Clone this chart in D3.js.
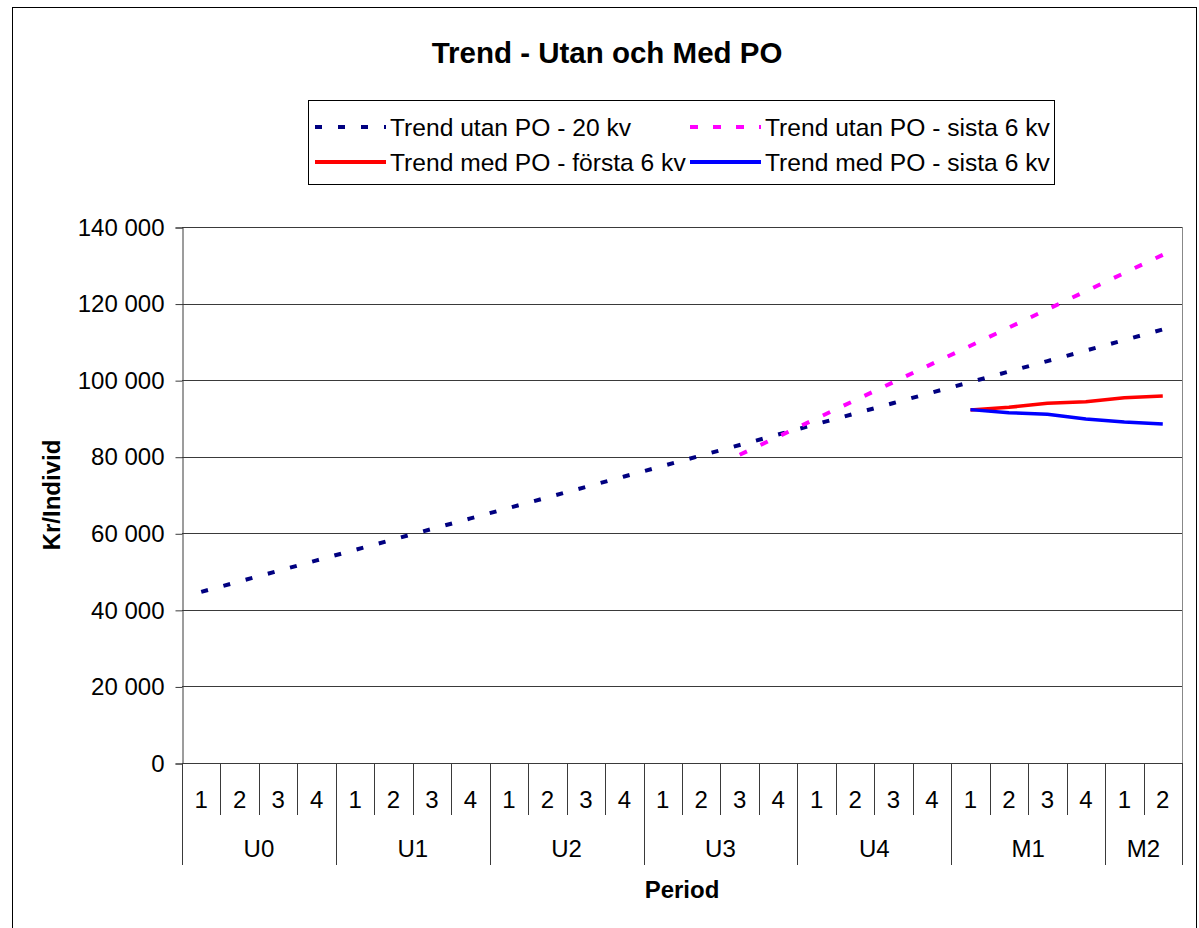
<!DOCTYPE html>
<html>
<head>
<meta charset="utf-8">
<script src="https://cdn.jsdelivr.net/npm/d3@7"></script>
<style>
  body { margin: 0; background: #fff; }
  text { font-family: "Liberation Sans", Arial, sans-serif; fill: #000; }
</style>
</head>
<body>
<svg id="chart" width="1199" height="928"></svg>
<script>
// kvartal inom varje period
let groups = ["U0", "U1", "U2", "U3", "U4", "M1", "M2"];
let groupSizes = [4, 4, 4, 4, 4, 4, 2];
let quarterLabels = ["1","2","3","4","1","2","3","4","1","2","3","4","1","2","3","4","1","2","3","4","1","2","3","4","1","2"];

// serier (null = inget värde)
let trendUtan20 = [44700, 47440, 50180, 52920, 55660, 58400, 61140, 63880, 66620, 69360, 72100, 74840, 77580,
    80320, 83060, 85800, 88540, 91280, 94020, 96760, 99500, 102240, 104980, 107720, 110460, 113250];
let trendUtanSista6 = [null, null, null, null, null, null, null, null, null, null, null, null, null, null,
    80500, 85250, 90000, 94740, 99490, 104240, 108990, 113740, 118480, 123230, 127980, 132730];
let trendMedForsta6 = [null, null, null, null, null, null, null, null, null, null, null, null, null, null,
    null, null, null, null, null, null, 92200, 92900, 93950, 94370, 95400, 95850];
let trendMedSista6 = [null, null, null, null, null, null, null, null, null, null, null, null, null, null,
    null, null, null, null, null, null, 92300, 91500, 91080, 89850, 89070, 88550];

let yTicks = [0, 20000, 40000, 60000, 80000, 100000, 120000, 140000];

let series = [
    {name: "Trend utan PO - 20 kv", values: trendUtan20, color: "#000080", dash: "7,16"},
    {name: "Trend utan PO - sista 6 kv", values: trendUtanSista6, color: "#FF00FF", dash: "8,15"},
    {name: "Trend med PO - första 6 kv", values: trendMedForsta6, color: "#FF0000", dash: null},
    {name: "Trend med PO - sista 6 kv", values: trendMedSista6, color: "#0000FF", dash: null}
];

let plotLeft = 182, plotRight = 1182, plotTop = 227, plotBottom = 763;
let svg = d3.select("#chart");

// ram runt diagrammet
svg.append("rect")
    .attr("x", 12.5).attr("y", 7.5)
    .attr("width", 1184).attr("height", 940)
    .attr("fill", "none").attr("stroke", "#000").attr("stroke-width", 1);

let x = d3.scaleBand().domain(d3.range(quarterLabels.length)).range([plotLeft, plotRight]).padding(0);
let y = d3.scaleLinear().domain([0, 140000]).range([plotBottom, plotTop]);
let bw = x.bandwidth();

let fmt = d3.formatLocale({decimal: ",", thousands: " ", grouping: [3], currency: ["", ""]}).format(",");

// rutnät
svg.append("g")
    .selectAll("line")
    .data(yTicks.filter(d => d > 0)).enter().append("line")
    .attr("x1", plotLeft).attr("x2", plotRight)
    .attr("y1", d => Math.round(y(d)) + 0.5).attr("y2", d => Math.round(y(d)) + 0.5)
    .attr("stroke", "#3a3a3a");

// höger kant på ritytan
svg.append("line")
    .attr("x1", plotRight + 0.5).attr("x2", plotRight + 0.5)
    .attr("y1", plotTop).attr("y2", plotBottom)
    .attr("stroke", "#888");

// y-axel
let yAxis = svg.append("g")
    .attr("transform", "translate(" + (plotLeft + 0.5) + ",0.5)")
    .call(d3.axisLeft(y).tickValues(yTicks).tickFormat(fmt).tickSize(7).tickPadding(11));
yAxis.select(".domain").attr("stroke", "#3a3a3a");
yAxis.selectAll(".tick line").attr("stroke", "#3a3a3a");
yAxis.selectAll("text")
    .attr("font-size", "24px")
    .attr("font-family", "Liberation Sans, Arial, sans-serif")
    .attr("fill", "#000");

// x-axel, två nivåer
svg.append("line")
    .attr("x1", plotLeft).attr("x2", plotRight + 1)
    .attr("y1", plotBottom + 0.5).attr("y2", plotBottom + 0.5)
    .attr("stroke", "#3a3a3a");

let groupStart = [];
let acc = 0;
groupSizes.forEach(n => { groupStart.push(acc); acc += n; });

let edges = d3.range(quarterLabels.length + 1);
svg.append("g")
    .selectAll("line")
    .data(edges).enter().append("line")
    .attr("x1", d => Math.round(plotLeft + d * bw) + 0.5)
    .attr("x2", d => Math.round(plotLeft + d * bw) + 0.5)
    .attr("y1", plotBottom)
    .attr("y2", d => (groupStart.includes(d) || d === quarterLabels.length) ? 865 : 815)
    .attr("stroke", "#3a3a3a");

svg.append("g")
    .selectAll("text")
    .data(quarterLabels).enter().append("text")
    .attr("x", (d, i) => x(i) + bw / 2)
    .attr("y", 808)
    .attr("text-anchor", "middle")
    .attr("font-size", "24px")
    .text(d => d);

svg.append("g")
    .selectAll("text")
    .data(groups).enter().append("text")
    .attr("x", (d, i) => plotLeft + (groupStart[i] + groupSizes[i] / 2) * bw)
    .attr("y", 857)
    .attr("text-anchor", "middle")
    .attr("font-size", "24px")
    .text(d => d);

// axeltitlar
svg.append("text")
    .attr("x", 682).attr("y", 898)
    .attr("text-anchor", "middle")
    .attr("font-size", "24px").attr("font-weight", "bold")
    .text("Period");

svg.append("text")
    .attr("transform", "translate(60,495) rotate(-90)")
    .attr("text-anchor", "middle")
    .attr("font-size", "24px").attr("font-weight", "bold")
    .text("Kr/Individ");

// titel
svg.append("text")
    .attr("x", 607).attr("y", 63)
    .attr("text-anchor", "middle")
    .attr("font-size", "29.5px").attr("font-weight", "bold")
    .text("Trend - Utan och Med PO");

// linjer
let line = d3.line()
    .defined(d => d != null)
    .x((d, i) => x(i) + bw / 2)
    .y(d => y(d));

svg.append("g")
    .selectAll("path")
    .data(series).enter().append("path")
    .attr("d", d => line(d.values))
    .attr("fill", "none")
    .attr("stroke", d => d.color)
    .attr("stroke-width", d => d.dash ? 4 : 3.5)
    .attr("stroke-dasharray", d => d.dash)
    .attr("stroke-linejoin", "round");

// förklaring
let legend = svg.append("g");
legend.append("rect")
    .attr("x", 308.5).attr("y", 100.5)
    .attr("width", 746).attr("height", 84)
    .attr("fill", "#fff").attr("stroke", "#000");

let legendPos = [
    {lx: 315, ty: 127},
    {lx: 690, ty: 127},
    {lx: 315, ty: 162},
    {lx: 690, ty: 162}
];

let items = legend.selectAll("g.item")
    .data(series).enter().append("g")
    .attr("class", "item");

items.append("line")
    .attr("x1", (d, i) => legendPos[i].lx)
    .attr("x2", (d, i) => legendPos[i].lx + 71)
    .attr("y1", (d, i) => legendPos[i].ty)
    .attr("y2", (d, i) => legendPos[i].ty)
    .attr("stroke", d => d.color)
    .attr("stroke-width", 4)
    .attr("stroke-dasharray", d => d.dash);

items.append("text")
    .attr("x", (d, i) => legendPos[i].lx + 75)
    .attr("y", (d, i) => legendPos[i].ty + 9)
    .attr("font-size", "24.6px")
    .text(d => d.name);
</script>
</body>
</html>
